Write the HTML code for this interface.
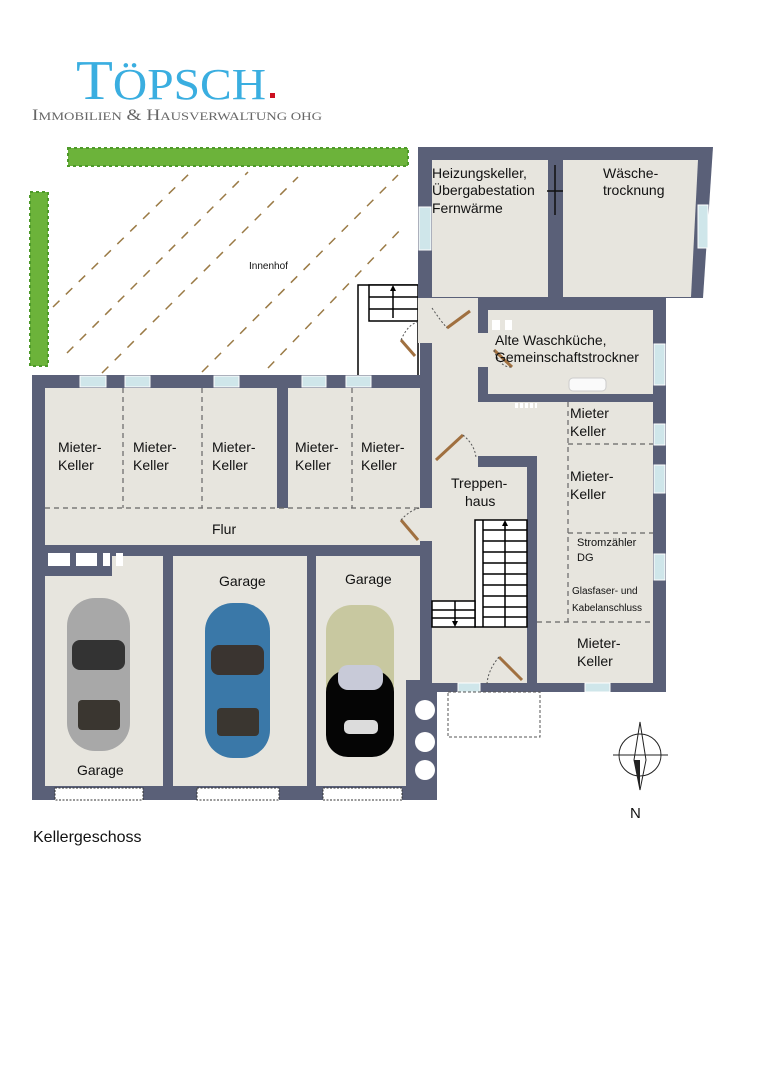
<!DOCTYPE html>
<html><head><meta charset="utf-8"><style>
html,body{margin:0;padding:0;background:#fff;}
svg{display:block;}
text{font-family:"Liberation Sans",sans-serif;fill:#111;}
.s{font-family:"Liberation Serif",serif;}
</style></head><body>
<svg width="764" height="1080" viewBox="0 0 764 1080" xmlns="http://www.w3.org/2000/svg">
<!-- logo -->
<text class="s" x="76" y="99" font-size="56" style="fill:#3aaee0" textLength="190" lengthAdjust="spacingAndGlyphs">T<tspan font-size="44">ÖPSCH</tspan></text>
<rect x="270" y="93" width="5" height="5" fill="#cc1020"/>
<text class="s" x="32" y="120" font-size="16" style="fill:#666" textLength="290" lengthAdjust="spacingAndGlyphs">I<tspan font-size="12">MMOBILIEN</tspan> &amp; H<tspan font-size="12">AUSVERWALTUNG OHG</tspan></text>

<!-- hedges -->
<rect x="68" y="148" width="340" height="18" fill="#6cb33a" stroke="#4e9a2a" stroke-dasharray="3 3" stroke-width="2"/>
<rect x="30" y="192" width="18" height="174" fill="#6cb33a" stroke="#4e9a2a" stroke-dasharray="3 3" stroke-width="2"/>
<!-- courtyard dashed lines -->
<g stroke="#9a7a45" stroke-width="1.5" stroke-dasharray="9 9">
<line x1="53" y1="307" x2="193" y2="170"/>
<line x1="67" y1="353" x2="248" y2="172"/>
<line x1="102" y1="373" x2="298" y2="177"/>
<line x1="202" y1="372" x2="398" y2="175"/>
<line x1="268" y1="368" x2="403" y2="227"/>
</g>
<text x="249" y="269" font-size="10">Innenhof</text>
<!-- outside stairs -->
<g stroke="#000" stroke-width="1.5" fill="#fff">
<rect x="358" y="285" width="60" height="92"/>
<rect x="369" y="285" width="49" height="36"/>
<line x1="369" y1="297" x2="418" y2="297"/><line x1="369" y1="309" x2="418" y2="309"/>
<line x1="393" y1="318" x2="393" y2="289"/>
</g>
<polygon points="393,285 390,291 396,291" fill="#000"/>

<!-- left block floor -->
<rect x="32" y="375" width="400" height="425" fill="#5a6078"/>
<rect x="45" y="388" width="232" height="120" fill="#e7e5de"/>
<rect x="288" y="388" width="132" height="120" fill="#e7e5de"/>
<rect x="45" y="508" width="387" height="37" fill="#e7e5de"/>
<rect x="45" y="556" width="118" height="230" fill="#e7e5de"/>
<rect x="45" y="556" width="67" height="20" fill="#5a6078"/>
<g fill="#fff"><rect x="48" y="553" width="22" height="13"/><rect x="76" y="553" width="21" height="13"/><rect x="103" y="553" width="7" height="13"/><rect x="116" y="553" width="7" height="13"/></g>
<rect x="173" y="556" width="134" height="230" fill="#e7e5de"/>
<rect x="316" y="556" width="104" height="230" fill="#e7e5de"/>
<rect x="406" y="680" width="31" height="120" fill="#5a6078"/>
<g fill="#fff"><circle cx="425" cy="710" r="10"/><circle cx="425" cy="742" r="10"/><circle cx="425" cy="770" r="10"/></g>
<!-- top windows -->
<g fill="#cfe6ea" stroke="#fff" stroke-width="1"><rect x="80" y="376" width="26" height="11"/><rect x="125" y="376" width="25" height="11"/><rect x="214" y="376" width="25" height="11"/><rect x="302" y="376" width="24" height="11"/><rect x="346" y="376" width="25" height="11"/></g>
<!-- garage doors -->
<g fill="#fff" stroke="#333" stroke-dasharray="2 1.5"><rect x="55" y="788" width="88" height="12"/><rect x="197" y="788" width="82" height="12"/><rect x="323" y="788" width="79" height="12"/></g>
<g stroke="#666" stroke-width="1.2" stroke-dasharray="5 4" fill="none">
<line x1="123" y1="388" x2="123" y2="508"/><line x1="202" y1="388" x2="202" y2="508"/><line x1="352" y1="388" x2="352" y2="508"/>
<line x1="45" y1="508" x2="420" y2="508"/>
</g>

<!-- right building -->
<polygon points="418,147 713,147 703,298 418,298" fill="#5a6078"/>
<rect x="432" y="160" width="116" height="137" fill="#e7e5de"/>
<polygon points="563,160 698,160 691,297 563,297" fill="#e7e5de"/>
<rect x="420" y="297" width="246" height="395" fill="#5a6078"/>
<rect x="432" y="298" width="46" height="385" fill="#e7e5de"/>
<rect x="488" y="310" width="165" height="84" fill="#e7e5de"/>
<rect x="478" y="333" width="12" height="34" fill="#e7e5de"/>
<rect x="432" y="402" width="221" height="54" fill="#e7e5de"/>
<rect x="510" y="394" width="40" height="8" fill="#5a6078"/>
<g fill="#fff"><rect x="515" y="403" width="3" height="5"/><rect x="520" y="403" width="3" height="5"/><rect x="525" y="403" width="3" height="5"/><rect x="530" y="403" width="3" height="5"/><rect x="535" y="403" width="3" height="5"/></g>
<rect x="432" y="456" width="41" height="227" fill="#e7e5de"/>
<rect x="432" y="467" width="95" height="216" fill="#e7e5de"/>
<rect x="537" y="402" width="116" height="281" fill="#e7e5de"/>
<rect x="420" y="508" width="12" height="33" fill="#e7e5de"/>
<rect x="492" y="320" width="8" height="10" fill="#fff"/><rect x="505" y="320" width="7" height="10" fill="#fff"/>
<rect x="418" y="298" width="14" height="45" fill="#e7e5de"/>
<!-- windows right building -->
<g fill="#cfe6ea" stroke="#fff"><rect x="419" y="207" width="12" height="43"/><rect x="698" y="205" width="10" height="43"/><rect x="654" y="344" width="11" height="41"/><rect x="654" y="424" width="11" height="21"/><rect x="654" y="465" width="11" height="28"/><rect x="654" y="554" width="11" height="26"/><rect x="458" y="683" width="22" height="9"/><rect x="585" y="683" width="25" height="9"/></g>
<line x1="555" y1="165" x2="555" y2="215" stroke="#111" stroke-width="1.5"/><line x1="547" y1="191" x2="563" y2="191" stroke="#111" stroke-width="1.5"/>
<rect x="569" y="378" width="37" height="13" rx="4" fill="#fafafa" stroke="#ccc"/>
<g stroke="#666" stroke-width="1.2" stroke-dasharray="5 4" fill="none">
<line x1="568" y1="402" x2="568" y2="622"/><line x1="568" y1="444" x2="653" y2="444"/><line x1="568" y1="533" x2="653" y2="533"/><line x1="537" y1="622" x2="653" y2="622"/>
</g>
<!-- stairs -->
<g stroke="#000" stroke-width="1.5" fill="#fff">
<rect x="475" y="520" width="52" height="107"/>
<line x1="483" y1="520" x2="483" y2="627"/>
<line x1="483" y1="530" x2="527" y2="530"/><line x1="483" y1="541" x2="527" y2="541"/><line x1="483" y1="552" x2="527" y2="552"/><line x1="483" y1="563" x2="527" y2="563"/><line x1="483" y1="574" x2="527" y2="574"/><line x1="483" y1="585" x2="527" y2="585"/><line x1="483" y1="596" x2="527" y2="596"/><line x1="483" y1="607" x2="527" y2="607"/><line x1="483" y1="617" x2="527" y2="617"/>
<rect x="432" y="601" width="43" height="26"/>
<line x1="432" y1="610" x2="475" y2="610"/><line x1="432" y1="618" x2="475" y2="618"/>
<line x1="505" y1="524" x2="505" y2="627"/><line x1="455" y1="601" x2="455" y2="624"/>
</g>
<polygon points="505,520 502,526 508,526" fill="#000"/><polygon points="455,627 452,621 458,621" fill="#000"/>
<g stroke="#a07040" stroke-width="3"><line x1="447" y1="328" x2="470" y2="311"/><line x1="401" y1="340" x2="415" y2="356"/><line x1="494" y1="350" x2="512" y2="367"/><line x1="436" y1="460" x2="463" y2="435"/><line x1="401" y1="520" x2="418" y2="540"/><line x1="499" y1="657" x2="522" y2="680"/></g>
<g stroke="#555" stroke-dasharray="2 2" fill="none"><path d="M432 308 Q440 320 447 328"/><path d="M401 340 Q408 324 418 322"/><path d="M494 350 Q500 368 512 367"/><path d="M463 435 Q475 445 476 458"/><path d="M401 520 Q410 510 420 508"/><path d="M499 657 Q488 670 487 684"/></g>
<rect x="448" y="692" width="92" height="45" fill="#fff" stroke="#555" stroke-dasharray="3 2"/>

<!-- cars -->
<g>
<rect x="67" y="598" width="63" height="153" rx="28" fill="#a8a8a8"/>
<rect x="72" y="640" width="53" height="30" rx="8" fill="#333"/>
<rect x="78" y="700" width="42" height="30" rx="4" fill="#3a3630"/>
<rect x="205" y="603" width="65" height="155" rx="28" fill="#3a78a8"/>
<rect x="211" y="645" width="53" height="30" rx="8" fill="#3a3430"/>
<rect x="217" y="708" width="42" height="28" rx="4" fill="#3a3630"/>
<rect x="326" y="605" width="68" height="152" rx="26" fill="#c8c8a0"/>
<rect x="326" y="670" width="68" height="87" rx="22" fill="#050505"/>
<rect x="338" y="665" width="45" height="25" rx="10" fill="#c8cad8"/>
<rect x="344" y="720" width="34" height="14" rx="5" fill="#dcdcdc"/>
</g>

<g font-size="14">
<text x="58" y="452">Mieter-</text><text x="58" y="470">Keller</text>
<text x="133" y="452">Mieter-</text><text x="133" y="470">Keller</text>
<text x="212" y="452">Mieter-</text><text x="212" y="470">Keller</text>
<text x="295" y="452">Mieter-</text><text x="295" y="470">Keller</text>
<text x="361" y="452">Mieter-</text><text x="361" y="470">Keller</text>
<text x="212" y="534">Flur</text>
<text x="219" y="586">Garage</text>
<text x="345" y="584">Garage</text>
<text x="77" y="775">Garage</text>
<text x="432" y="178">Heizungskeller,</text>
<text x="432" y="195">Übergabestation</text>
<text x="432" y="213">Fernwärme</text>
<text x="603" y="178">Wäsche-</text>
<text x="603" y="195">trocknung</text>
<text x="495" y="345">Alte Waschküche,</text>
<text x="495" y="362">Gemeinschaftstrockner</text>
<text x="570" y="418">Mieter</text><text x="570" y="436">Keller</text>
<text x="570" y="481">Mieter-</text><text x="570" y="499">Keller</text>
<text x="451" y="488">Treppen-</text><text x="465" y="506">haus</text>
<text x="577" y="648">Mieter-</text><text x="577" y="666">Keller</text>
</g>
<text x="577" y="546" font-size="11">Stromzähler</text>
<text x="577" y="561" font-size="11">DG</text>
<text x="572" y="594" font-size="10">Glasfaser- und</text>
<text x="572" y="611" font-size="10">Kabelanschluss</text>
<text x="33" y="842" font-size="16">Kellergeschoss</text>
<g stroke="#222" fill="none" stroke-width="1">
<circle cx="640" cy="755" r="21"/>
<line x1="613" y1="755" x2="668" y2="755"/>
<path d="M640 722 L634 760 L640 790 L646 760 Z"/>
</g>
<path d="M640 760 L640 790 L634 760 Z" fill="#222"/>
<text x="630" y="818" font-size="15">N</text>
</svg>
</body></html>
